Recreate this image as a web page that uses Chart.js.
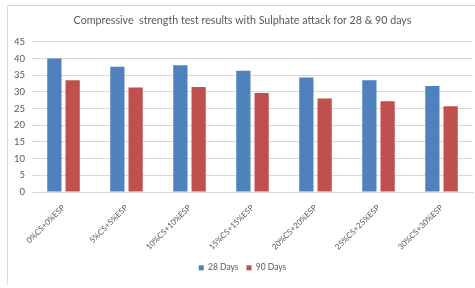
<!DOCTYPE html>
<html>
<head>
<meta charset="utf-8">
<script src="https://cdn.jsdelivr.net/npm/chart.js@4"></script>
<style>
html,body{margin:0;padding:0;background:#fff;}
#wrap{width:475px;height:288px;position:relative;}
</style>
</head>
<body>
<div id="wrap"><canvas id="c" width="475" height="288"></canvas></div>
<script>
const categories = ["0%CS+0%ESP","5%CS+5%ESP","10%CS+10%ESP","15%CS+15%ESP","20%CS+20%ESP","25%CS+25%ESP","30%CS+30%ESP"];
const days28 = [40.0, 37.5, 38.0, 36.3, 34.3, 33.5, 31.8];
const days90 = [33.5, 31.3, 31.5, 29.7, 28.0, 27.2, 25.7];
const seriesNames = ["28 Days", "90 Days"];
const titleText = "Compressive  strength test results with Sulphate attack for 28 & 90 days";
const yTicks = [0,5,10,15,20,25,30,35,40,45];

const FONT = "Lato, 'Open Sans', sans-serif";
const TXT = "#595959";

const borderPlugin = {
  id: 'frame',
  beforeDraw(chart) {
    const ctx = chart.ctx;
    ctx.save();
    ctx.strokeStyle = '#D9D9D9';
    ctx.lineWidth = 1;
    ctx.beginPath();
    ctx.moveTo(7.5, 285);
    ctx.lineTo(7.5, 5.5);
    ctx.lineTo(475, 5.5);
    ctx.stroke();
    ctx.restore();
  }
};

new Chart(document.getElementById('c'), {
  type: 'bar',
  data: {
    labels: categories,
    datasets: [
      { label: seriesNames[0], data: days28, backgroundColor: '#4F81BD',
        barPercentage: 0.78, categoryPercentage: 0.58 },
      { label: seriesNames[1], data: days90, backgroundColor: '#C0504D',
        barPercentage: 0.78, categoryPercentage: 0.58 }
    ]
  },
  options: {
    responsive: false,
    animation: false,
    devicePixelRatio: 1,
    layout: { padding: { left: 12, right: 2, top: 8, bottom: 6 } },
    plugins: {
      title: {
        display: true, text: titleText, color: TXT,
        font: { family: FONT, size: 10.7, weight: 'normal' },
        padding: { top: 6, bottom: 15 }
      },
      legend: {
        position: 'bottom',
        labels: {
          color: TXT, font: { family: FONT, size: 8.5 },
          boxWidth: 5, boxHeight: 5, padding: 8
        }
      },
      tooltip: { enabled: false }
    },
    scales: {
      y: {
        min: 0, max: 45,
        afterBuildTicks(scale) { scale.ticks = yTicks.map(v => ({ value: v })); },
        afterFit(scale) { scale.width = 20; },
        ticks: { color: TXT, font: { family: FONT, size: 9.5 }, padding: 7 },
        grid: { color: '#D9D9D9', drawTicks: false },
        border: { display: false }
      },
      x: {
        afterFit(scale) { scale.height = 63.5; },
        ticks: { color: TXT, font: { family: FONT, size: 8 }, minRotation: 45, maxRotation: 45, padding: 3 },
        grid: { display: false },
        border: { display: true, color: '#D9D9D9' }
      }
    }
  },
  plugins: [borderPlugin]
});
</script>
</body>
</html>
